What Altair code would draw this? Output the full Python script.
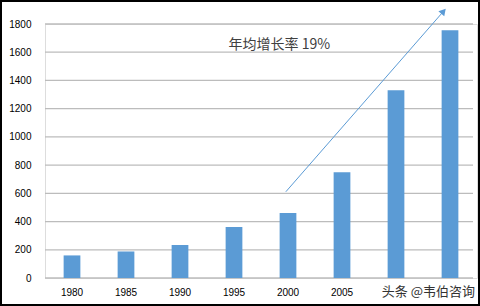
import altair as alt
import pandas as pd

years = ["1980", "1985", "1990", "1995", "2000", "2005", "2010", "2015"]
values = [160, 188, 234, 362, 460, 750, 1330, 1755]
y_ticks = [0, 200, 400, 600, 800, 1000, 1200, 1400, 1600, 1800]

# annotation arrow (x in category-step units, y in data units)
arrow_x = [4.46, 7.38]
arrow_y = [611, 1890]
note_text = ["年均增长率 19%"]
note_x = [3.4]
note_y = [1650]
mark_text = ["头条 @韦伯咨询"]
mark_x = [7.1]
mark_y = [-100]

W, H = 432, 254
LEFT, TOP = 45, 24

bars_df = pd.DataFrame({"year": years, "value": values})
grid_df = pd.DataFrame({"v": y_ticks})
arrow_df = pd.DataFrame({"x": arrow_x, "y": arrow_y})
head_df = pd.DataFrame({"x": [arrow_x[1]], "y": [arrow_y[1]]})
note_df = pd.DataFrame({"x": note_x, "y": note_y, "t": note_text})
wm_df = pd.DataFrame({"x": mark_x, "y": mark_y, "t": mark_text})

yscale = alt.Scale(domain=[0, 1800], nice=False)
qx = alt.Scale(domain=[0, 8], nice=False, zero=False)

def qy(field):
    return alt.Y(field, scale=yscale, axis=None)

frame = alt.Chart(grid_df).mark_rect(fill="white", fillOpacity=0, stroke="black",
                                     strokeWidth=2).encode(
    x=alt.value(-LEFT + 1), x2=alt.value(480 - LEFT - 1),
    y=alt.value(-TOP + 1), y2=alt.value(306 - TOP - 1),
)

grid = alt.Chart(grid_df).mark_rule(color="#bcbcbc", strokeWidth=1.3, opacity=1).encode(
    x=alt.value(0), x2=alt.value(W - 4),
    y=qy("v:Q"),
)

bars = alt.Chart(bars_df).mark_bar(color="#5b9bd5").encode(
    x=alt.X("year:N", sort=years,
            scale=alt.Scale(paddingInner=0.69, paddingOuter=0.345),
            axis=alt.Axis(title=None, labelAngle=0, ticks=False, domain=False,
                          labelPadding=9,
                          labelExpr="datum.value <= '2005' ? datum.label : ''")),
    y=alt.Y("value:Q", scale=yscale,
            axis=alt.Axis(title=None, values=y_ticks, format="d",
                          labelOverlap=False, ticks=False, grid=False,
                          domain=False, labelPadding=14)),
)

line = alt.Chart(arrow_df).mark_line(color="#5b9bd5", strokeWidth=1).encode(
    x=alt.X("x:Q", scale=qx, axis=None),
    y=qy("y:Q"),
)
head = alt.Chart(head_df).mark_point(shape="triangle-up", filled=True, color="#5b9bd5",
                                     size=60, angle=41, opacity=1).encode(
    x=alt.X("x:Q", scale=qx, axis=None),
    y=qy("y:Q"),
)
note = alt.Chart(note_df).mark_text(align="left", baseline="middle", fontSize=14,
                                    font="Noto Sans CJK SC", color="#404040").encode(
    x=alt.X("x:Q", scale=qx, axis=None),
    y=qy("y:Q"),
    text="t:N",
)
wm = alt.Chart(wm_df).mark_text(align="center", baseline="middle", fontSize=13,
                                font="Noto Sans CJK SC", color="#333333").encode(
    x=alt.X("x:Q", scale=qx, axis=None),
    y=qy("y:Q"),
    text="t:N",
)

chart = alt.layer(frame, grid, bars, line, head, note, wm).resolve_scale(
    x="independent"
).resolve_axis(x="independent", y="independent").properties(
    width=W, height=H,
    autosize=alt.AutoSizeParams(type="none"),
    padding={"left": LEFT, "top": TOP, "right": 480 - LEFT - W, "bottom": 306 - TOP - H},
).configure_view(stroke=None).configure_axis(
    labelFont="Lato", labelFontSize=12.5, labelColor="#595959"
).configure(background="white")

chart.save("out.html", embed_options={"renderer": "svg", "actions": False})
